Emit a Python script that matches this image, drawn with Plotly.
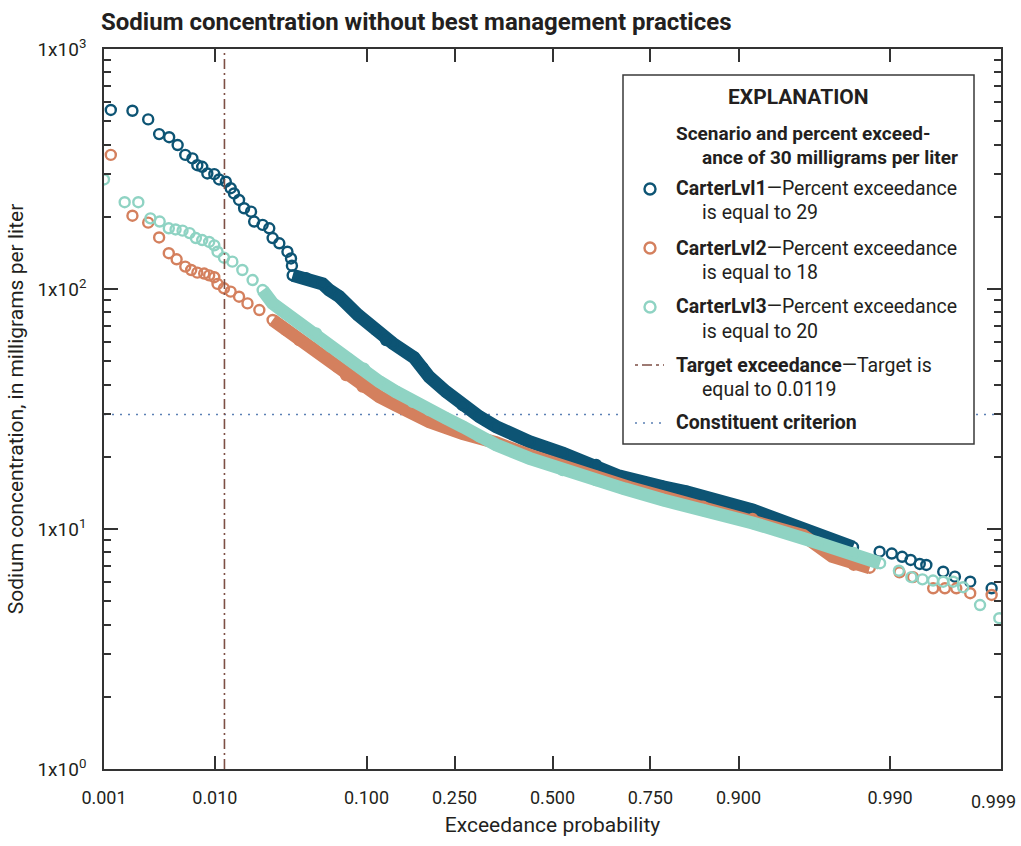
from statistics import NormalDist
import plotly.graph_objects as go

# ---- data: exceedance probability and sodium concentration (mg/L) ----
LVL1_P = [0.00117, 0.0019, 0.00267, 0.00336, 0.00413, 0.0049, 0.0057, 0.00655, 0.0072, 0.0079,
          0.0087, 0.0099, 0.0108, 0.0122, 0.0133, 0.0141, 0.0154, 0.0168, 0.0189, 0.0199,
          0.0229, 0.0255, 0.0269, 0.0299, 0.0339, 0.0358, 0.0363,
          0.0367, 0.0447, 0.0566, 0.062, 0.0709, 0.09, 0.112, 0.1257, 0.1355, 0.17, 0.185,
          0.198, 0.232, 0.268, 0.307, 0.349, 0.437, 0.528, 0.618, 0.678, 0.777, 0.822, 0.916,
          0.958, 0.9808,
          0.9879, 0.9903, 0.992, 0.9932, 0.9943, 0.995, 0.99645, 0.99722, 0.998, 0.99876]
LVL1_C = [557, 553, 509, 442, 429, 398, 362, 350, 328, 323,
          303, 301, 286, 280, 263, 250, 235, 217, 210, 191,
          185, 179, 163, 155, 143, 134, 125,
          114, 111, 105, 99, 93, 78, 67.5, 61.3, 59.4, 51.8, 47,
          43, 37.3, 32.8, 29.4, 26.7, 23.1, 20.7, 18.5, 16.6, 15.0, 14.3, 12.0,
          9.9, 8.4,
          8.04, 7.9, 7.66, 7.43, 7.15, 7.08, 6.64, 6.33, 6.03, 5.66]

LVL2_P = [0.00117, 0.0019, 0.00267, 0.00336, 0.0041, 0.0048, 0.0057, 0.0064, 0.0072, 0.0082,
          0.009, 0.0099, 0.0105, 0.0118, 0.0133, 0.0154, 0.0178, 0.0217,
          0.0269, 0.0331, 0.0405, 0.0492, 0.0593, 0.0693, 0.0774, 0.0954, 0.1164, 0.1405,
          0.168, 0.198, 0.268, 0.349, 0.437, 0.528, 0.618, 0.702, 0.777, 0.85, 0.916, 0.958,
          0.973, 0.981, 0.9856,
          0.9916, 0.9935, 0.99564, 0.99657, 0.9973, 0.998, 0.99876]
LVL2_C = [362, 202, 189, 164, 141, 133, 124, 120, 117, 116,
          114, 112, 105, 100.7, 97.5, 92.9, 87.1, 81.7,
          74.3, 67.5, 61.3, 56.6, 52.3, 47.4, 43.8, 39.2, 35.6, 32.8,
          30.3, 28.0, 25.0, 22.9, 20.3, 18.1, 16.5, 14.9, 13.6, 12.4, 11.0, 9.4,
          7.7, 7.1, 6.9,
          6.6, 6.3, 5.66, 5.66, 5.66, 5.4, 5.31]

LVL3_P = [0.001, 0.0016, 0.00216, 0.0028, 0.0034, 0.0041, 0.0047, 0.0054, 0.0062, 0.007,
          0.0079, 0.009, 0.0099, 0.0105, 0.0118, 0.0137, 0.0163, 0.0194,
          0.0229, 0.0269, 0.0331, 0.0405, 0.0516, 0.063, 0.08, 0.097, 0.1164, 0.1405,
          0.168, 0.198, 0.232, 0.268, 0.307, 0.349, 0.437, 0.528, 0.618, 0.69, 0.777, 0.85,
          0.916, 0.966, 0.981, 0.988,
          0.9915, 0.9933, 0.9946, 0.99563, 0.99645, 0.99712, 0.99767, 0.99839, 0.99896]
LVL3_C = [286, 230, 230, 197, 191, 179, 177, 175, 171, 163,
          160, 157, 152, 143, 135, 130, 120, 109,
          99, 87.1, 79.2, 71.9, 65.3, 57.5, 51, 46.5, 41.1, 37.3,
          33.9, 31.3, 28.9, 26.7, 24.3, 22.4, 19.7, 17.6, 16.0, 14.7, 13.2, 12.0,
          10.6, 8.77, 7.94, 7.2,
          6.7, 6.3, 6.17, 6.1, 6.03, 6.03, 5.72, 4.82, 4.25]

# probability range over which each sorted series is dense enough to read as a solid band
LVL1_BAND = (0.0367, 0.9808)
LVL2_BAND = (0.0269, 0.9856)
LVL3_BAND = (0.0229, 0.988)

SCENARIOS = ["CarterLvl1", "CarterLvl2", "CarterLvl3"]
PERCENT_EXCEED = [29, 18, 20]
TARGET_EXCEEDANCE = 0.0119
CRITERION = 30

X_TICKS = [0.001, 0.010, 0.100, 0.250, 0.500, 0.750, 0.900, 0.990, 0.999]
X_TICK_TEXT = ["0.001", "0.010", "0.100", "0.250", "0.500", "0.750", "0.900", "0.990", "0.999"]
Y_TICKS = [1, 10, 100, 1000]
Y_TICK_TEXT = ["1x10<sup>0</sup>", "1x10<sup>1</sup>", "1x10<sup>2</sup>", "1x10<sup>3</sup>"]

COLORS = ["#0d5474", "#d4805e", "#8fd3c3"]
TARGET_COLOR = "#7d4f45"
CRITERION_COLOR = "#5b80b4"
INK = "#231f20"
AXIS = "#333333"
FONT = "Roboto, Liberation Sans, sans-serif"

# ---- figure geometry ----
FIG_W, FIG_H = 1021, 846
M_L, M_R, M_T, M_B = 104, 20, 49, 77
PLOT_W = FIG_W - M_L - M_R
PLOT_H = FIG_H - M_T - M_B

norm = NormalDist()


def zq(p):
    """Normal-probability scale position of an exceedance probability."""
    return norm.inv_cdf(p)


def px(x):
    return (x - M_L) / PLOT_W


def py(y):
    return (FIG_H - M_B - y) / PLOT_H


fig = go.Figure()

series = [(LVL1_P, LVL1_C, LVL1_BAND), (LVL2_P, LVL2_C, LVL2_BAND), (LVL3_P, LVL3_C, LVL3_BAND)]
for name, color, (probs, conc, band) in zip(SCENARIOS, COLORS, series):
    xs = [zq(p) for p in probs]
    bx = [zq(p) for p in probs if band[0] <= p <= band[1]]
    by = [c for p, c in zip(probs, conc) if band[0] <= p <= band[1]]
    fig.add_trace(go.Scatter(
        x=bx, y=by, mode="lines", showlegend=False, hoverinfo="skip",
        line=dict(color=color, width=13),
    ))
    fig.add_trace(go.Scatter(
        x=xs, y=conc, mode="markers", name=name, showlegend=False,
        marker=dict(symbol="circle-open", size=10, color=color, line=dict(width=2.4, color=color)),
    ))

# constituent criterion and target exceedance reference lines
fig.add_shape(type="line", xref="x domain", yref="y", x0=0, x1=1, y0=CRITERION, y1=CRITERION,
              line=dict(color=CRITERION_COLOR, width=1.6, dash="2px,6px"), layer="below")
fig.add_shape(type="line", xref="x", yref="y domain", x0=zq(TARGET_EXCEEDANCE), x1=zq(TARGET_EXCEEDANCE),
              y0=0, y1=1, line=dict(color=TARGET_COLOR, width=1.6, dash="10px,4px,2px,4px"))

# ---- explanation box ----
fig.add_shape(type="rect", xref="paper", yref="paper", x0=px(623), x1=px(974), y0=py(444), y1=py(75),
              line=dict(color="#3a3a3a", width=1.5), fillcolor="white", layer="above")

ann = []


def text(x, y, s, size=19.5, anchor="left"):
    ann.append(dict(x=px(x), y=py(y), xref="paper", yref="paper", text=s, showarrow=False,
                    xanchor=anchor, yanchor="middle", font=dict(family=FONT, size=size, color=INK)))


text(798, 97, "<b>EXPLANATION</b>", size=21, anchor="center")
text(674, 133, "<b>Scenario and percent exceed-</b>", size=19)
text(700, 157, "<b>ance of 30 milligrams per liter</b>", size=19)
rows = [189, 248, 307]
for name, color, pct, ry in zip(SCENARIOS, COLORS, PERCENT_EXCEED, rows):
    fig.add_shape(type="circle", xref="paper", yref="paper", xsizemode="pixel", ysizemode="pixel",
                  xanchor=px(650), yanchor=py(ry), x0=-5.5, x1=5.5, y0=-5.5, y1=5.5,
                  line=dict(color=color, width=2.4), fillcolor="white", layer="above")
    text(674, ry, f"<b>{name}</b>—Percent exceedance")
    text(700, ry + 24, f"is equal to {pct}")

fig.add_shape(type="line", xref="paper", yref="paper", x0=px(635), x1=px(664), y0=py(365), y1=py(365),
              line=dict(color=TARGET_COLOR, width=1.6, dash="3px,4px,10px,4px"), layer="above")
text(674, 365, "<b>Target exceedance</b>—Target is")
text(700, 389, f"equal to {TARGET_EXCEEDANCE}")
fig.add_shape(type="line", xref="paper", yref="paper", x0=px(635), x1=px(664), y0=py(423), y1=py(423),
              line=dict(color=CRITERION_COLOR, width=1.6, dash="2px,6px"), layer="above")
text(674, 423, "<b>Constituent criterion</b>")

# the last probability label sits at the right frame edge; right-align it so it stays on the page
tick_text = X_TICK_TEXT[:-1] + [""]
ann.append(dict(x=px(1018), y=py(801), xref="paper", yref="paper", text=X_TICK_TEXT[-1],
                showarrow=False, xanchor="right", yanchor="middle",
                font=dict(family=FONT, size=18, color=INK)))

fig.update_layout(
    width=FIG_W, height=FIG_H,
    margin=dict(l=M_L, r=M_R, t=M_T, b=M_B, autoexpand=False),
    paper_bgcolor="white", plot_bgcolor="white",
    font=dict(family=FONT, size=19, color=INK),
    title=dict(text="<b>Sodium concentration without best management practices</b>",
               x=101 / FIG_W, xanchor="left", xref="container",
               y=1 - 22 / FIG_H, yanchor="middle", yref="container",
               font=dict(family=FONT, size=24, color=INK)),
    annotations=ann,
    showlegend=False,
)

eps = 1e-6
fig.update_xaxes(
    range=[zq(0.001) - eps, zq(0.999) + eps], automargin=False,
    tickmode="array", tickvals=[zq(p) for p in X_TICKS], ticktext=tick_text,
    ticks="inside", ticklen=13, tickwidth=1.8, tickcolor=AXIS,
    showline=True, linecolor=AXIS, linewidth=1.6, mirror="ticks",
    showgrid=False, zeroline=False, ticklabelstandoff=12, ticklabeloverflow="allow",
    tickfont=dict(family=FONT, size=18, color=INK),
    title=dict(text="Exceedance probability", standoff=10, font=dict(family=FONT, size=21, color=INK)),
)
minor_vals = [m * 10 ** e for e in range(3) for m in range(2, 10)]
fig.update_yaxes(
    type="log", range=[0, 3], automargin=False,
    tickmode="array", tickvals=Y_TICKS, ticktext=Y_TICK_TEXT,
    ticks="inside", ticklen=14, tickwidth=1.8, tickcolor=AXIS,
    minor=dict(tickmode="array", tickvals=minor_vals, ticks="inside", ticklen=7, tickwidth=1.8,
               tickcolor=AXIS, showgrid=False),
    showline=True, linecolor=AXIS, linewidth=1.6, mirror="ticks",
    showgrid=False, zeroline=False, ticklabelstandoff=12,
    tickfont=dict(family=FONT, size=19, color=INK),
    title=dict(text="Sodium concentration, in milligrams per liter", standoff=8,
               font=dict(family=FONT, size=21, color=INK)),
)

fig.write_html("out.html", config={"displayModeBar": False})
